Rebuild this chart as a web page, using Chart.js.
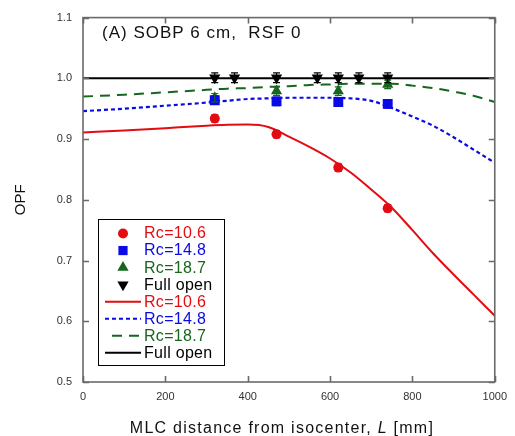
<!DOCTYPE html>
<html><head><meta charset="utf-8">
<script src="https://cdn.jsdelivr.net/npm/chart.js@4/dist/chart.umd.min.js"></script>
<style>html,body{margin:0;padding:0;background:#fff}</style>
</head><body>
<canvas id="c" width="515" height="436"></canvas>
<script>
// ---- data ----
const xTicks = [0, 200, 400, 600, 800, 1000];
const yTicks = [0.5, 0.6, 0.7, 0.8, 0.9, 1.0, 1.1];
const measX = [320, 470, 620, 740];
const rc106Meas = [0.934, 0.908, 0.853, 0.786];
const rc148Meas = [0.964, 0.962, 0.961, 0.958];
const rc187Meas = [0.968, 0.979, 0.979, 0.990];
const rc106Err = [0.006, 0.006, 0.006, 0.006];
const rc148Err = [0.007, 0.007, 0.007, 0.007];
const rc187Err = [0.007, 0.007, 0.007, 0.007];
const openX = [320, 368, 470, 569, 620, 670, 740];
const openMeas = [1.001, 1.001, 1.001, 1.001, 1.001, 1.001, 1.001];
const openErr = [0.008, 0.008, 0.008, 0.008, 0.008, 0.008, 0.008];
const curveX = [0, 100, 200, 300, 350, 400, 450, 500, 550, 600, 650, 700, 750, 800, 850, 900, 950, 1000];
const rc106Fit = [0.911, 0.914, 0.918, 0.922, 0.9235, 0.924, 0.920, 0.904, 0.887, 0.868, 0.845, 0.817, 0.787, 0.750, 0.712, 0.677, 0.643, 0.609];
const rc148Fit = [0.946, 0.950, 0.955, 0.960, 0.963, 0.966, 0.967, 0.968, 0.968, 0.968, 0.967, 0.963, 0.951, 0.937, 0.922, 0.903, 0.882, 0.861];
const rc187Fit = [0.970, 0.973, 0.977, 0.981, 0.983, 0.984, 0.986, 0.987, 0.989, 0.990, 0.991, 0.991, 0.991, 0.988, 0.984, 0.978, 0.971, 0.961];
const openLineX = [0, 1000];
const openLine = [1.0, 1.0];
const labels = ['Rc=10.6', 'Rc=14.8', 'Rc=18.7', 'Full open'];

const RED = 'rgb(226,12,18)', BLUE = 'rgb(10,10,230)', GREEN = 'rgb(22,102,30)', BLACK = '#000';
const FONT = '"Liberation Sans", Arial, sans-serif';

const pts = (xs, ys) => xs.map((x, i) => ({x, y: ys[i]}));

const datasets = [
  {label: labels[0], data: pts(measX, rc106Meas), err: rc106Err, showLine: false, pointStyle: 'circle', pointRadius: 5, backgroundColor: RED, borderColor: RED, borderWidth: 0},
  {label: labels[1], data: pts(measX, rc148Meas), err: rc148Err, showLine: false, pointStyle: 'rect', pointRadius: 7, backgroundColor: BLUE, borderColor: BLUE, borderWidth: 0},
  {label: labels[2], data: pts(measX, rc187Meas), err: rc187Err, showLine: false, pointStyle: 'triangle', pointRadius: 6.5, backgroundColor: GREEN, borderColor: GREEN, borderWidth: 0},
  {label: labels[3], data: pts(openX, openMeas), err: openErr, showLine: false, pointStyle: 'triangle', rotation: 180, pointRotation: 180, pointRadius: 6.5, backgroundColor: BLACK, borderColor: BLACK, borderWidth: 0},
  {label: labels[0], data: pts(curveX, rc106Fit), showLine: true, pointRadius: 0, borderColor: RED, borderWidth: 2, cubicInterpolationMode: 'monotone', fill: false},
  {label: labels[1], data: pts(curveX, rc148Fit), showLine: true, pointRadius: 0, borderColor: BLUE, borderWidth: 2.2, borderDash: [4, 3], cubicInterpolationMode: 'monotone', fill: false},
  {label: labels[2], data: pts(curveX, rc187Fit), showLine: true, pointRadius: 0, borderColor: GREEN, borderWidth: 2, borderDash: [10, 7], cubicInterpolationMode: 'monotone', fill: false},
  {label: labels[3], data: pts(openLineX, openLine), showLine: true, pointRadius: 0, borderColor: BLACK, borderWidth: 2, fill: false}
];

function drawMarker(ctx, style, r, rot, x, y, color) {
  ctx.save();
  ctx.fillStyle = color;
  ctx.beginPath();
  if (style === 'circle') {
    ctx.arc(x, y, r, 0, Math.PI * 2);
  } else if (style === 'rect') {
    const s = Math.SQRT1_2 * r;
    ctx.rect(x - s, y - s, 2 * s, 2 * s);
  } else if (style === 'triangle') {
    const a = (rot || 0) * Math.PI / 180;
    for (let k = 0; k < 3; k++) {
      const t = a - Math.PI / 2 + k * 2 * Math.PI / 3;
      const px = x + Math.cos(t) * r, py = y + Math.sin(t) * r;
      if (k === 0) ctx.moveTo(px, py); else ctx.lineTo(px, py);
    }
    ctx.closePath();
  }
  ctx.fill();
  ctx.restore();
}

const errorBars = {
  id: 'errorBars',
  afterDatasetsDraw(chart) {
    const ctx = chart.ctx, xs = chart.scales.x, ys = chart.scales.y;
    ctx.save();
    chart.data.datasets.forEach(ds => {
      if (!ds.err) return;
      ctx.strokeStyle = ds.borderColor;
      ctx.lineWidth = 1.2;
      ds.data.forEach((p, i) => {
        const px = xs.getPixelForValue(p.x);
        const top = ys.getPixelForValue(p.y + ds.err[i]);
        const bot = ys.getPixelForValue(p.y - ds.err[i]);
        ctx.beginPath();
        ctx.moveTo(px, top); ctx.lineTo(px, bot);
        ctx.moveTo(px - 3.5, top); ctx.lineTo(px + 3.5, top);
        ctx.moveTo(px - 3.5, bot); ctx.lineTo(px + 3.5, bot);
        ctx.stroke();
      });
    });
    ctx.restore();
  }
};

const frame = {
  id: 'frame',
  afterDraw(chart) {
    const ctx = chart.ctx, a = chart.chartArea, xs = chart.scales.x, ys = chart.scales.y;
    ctx.save();
    ctx.strokeStyle = '#6a6a6a';
    ctx.lineWidth = 1.6;
    ctx.strokeRect(a.left, a.top, a.right - a.left, a.bottom - a.top);
    const tl = 6;
    ctx.beginPath();
    xs.ticks.forEach(t => {
      const px = Math.round(xs.getPixelForValue(t.value)) + 0.5;
      ctx.moveTo(px, a.bottom); ctx.lineTo(px, a.bottom - tl);
      ctx.moveTo(px, a.top); ctx.lineTo(px, a.top + tl);
    });
    ys.ticks.forEach(t => {
      const py = Math.round(ys.getPixelForValue(t.value)) + 0.5;
      ctx.moveTo(a.left, py); ctx.lineTo(a.left + tl, py);
      ctx.moveTo(a.right, py); ctx.lineTo(a.right - tl, py);
    });
    ctx.stroke();

    // panel label
    ctx.fillStyle = '#111';
    ctx.font = '17px ' + FONT;
    ctx.letterSpacing = '1px';
    ctx.textBaseline = 'middle';
    ctx.textAlign = 'left';
    ctx.fillText('(A) SOBP 6 cm,  RSF 0', 102, 33);

    // x-axis title with italic L
    ctx.letterSpacing = '1.25px';
    const parts = [['MLC distance from isocenter, ', '16px ' + FONT], ['L', 'italic 16px ' + FONT], [' [mm]', '16px ' + FONT]];
    let total = 0;
    parts.forEach(p => { ctx.font = p[1]; p.w = ctx.measureText(p[0]).width; total += p.w; });
    let x = 282 - total / 2;
    parts.forEach(p => { ctx.font = p[1]; ctx.fillText(p[0], x, 429); x += p.w; });

    // legend
    const lx = 98.5, ly = 219.5, lw = 126, lh = 146;
    ctx.fillStyle = '#fff';
    ctx.fillRect(lx, ly, lw, lh);
    ctx.strokeStyle = '#000';
    ctx.lineWidth = 1;
    ctx.strokeRect(lx, ly, lw, lh);
    ctx.font = '16px ' + FONT;
    ctx.letterSpacing = '0.3px';
    chart.data.datasets.forEach((ds, i) => {
      const y = 233.5 + i * 17.05;
      if (ds.showLine) {
        ctx.save();
        ctx.strokeStyle = ds.borderColor;
        ctx.lineWidth = ds.borderWidth;
        ctx.setLineDash(ds.borderDash || []);
        if (ds.borderDash && ds.borderDash[0] > 6) ctx.lineDashOffset = ds.borderDash[0];
        ctx.beginPath();
        ctx.moveTo(105, y); ctx.lineTo(141, y);
        ctx.stroke();
        ctx.restore();
      } else {
        const r = ds.pointStyle === 'circle' ? 5 : 6.5;
        drawMarker(ctx, ds.pointStyle, r, ds.rotation || 0, 123, y, ds.backgroundColor);
      }
      ctx.fillStyle = ds.borderColor;
      ctx.fillText(ds.label, 144, y + 0.5);
    });
    ctx.restore();
  }
};

new Chart(document.getElementById('c'), {
  type: 'scatter',
  data: {datasets},
  plugins: [errorBars, frame],
  options: {
    responsive: false,
    animation: false,
    devicePixelRatio: 1,
    layout: {padding: {top: 16, right: 17, left: 0, bottom: 0}},
    plugins: {legend: {display: false}, tooltip: {enabled: false}},
    elements: {line: {tension: 0.4}},
    scales: {
      x: {
        type: 'linear', min: 0, max: 1000,
        afterBuildTicks: s => { s.ticks = xTicks.map(v => ({value: v})); },
        afterFit: s => { s.height = 54; },
        grid: {display: false, drawTicks: false},
        border: {display: false},
        ticks: {padding: 8, color: '#333', font: {family: FONT, size: 11}, callback: v => String(v)},
        title: {display: false}
      },
      y: {
        type: 'linear', min: 0.5, max: 1.1,
        afterBuildTicks: s => { s.ticks = yTicks.map(v => ({value: v})); },
        afterFit: s => { s.width = 83; },
        grid: {display: false, drawTicks: false},
        border: {display: false},
        ticks: {padding: 11, color: '#333', font: {family: FONT, size: 11}, callback: v => Number(v).toFixed(1)},
        title: {display: true, text: 'OPF', color: '#111', font: {family: FONT, size: 15}, padding: {top: 12, bottom: 0}}
      }
    }
  }
});
</script>
</body></html>
